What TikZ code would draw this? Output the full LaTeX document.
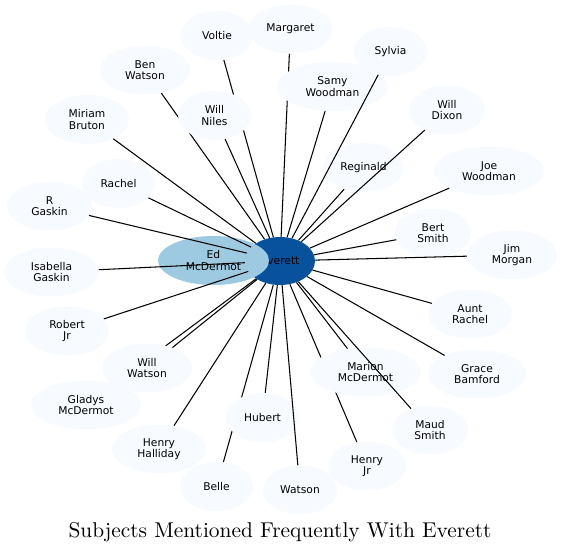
\documentclass[tikz,border=0pt]{standalone}
\usepackage{fontspec}
\newfontfamily\nodefontfam{DejaVu Sans}
\newfontfamily\titlefontfam{lmroman10-regular.otf}
\usetikzlibrary{shapes.geometric}
\definecolor{lightnode}{RGB}{247,251,255}
\definecolor{midnode}{RGB}{158,202,225}
\definecolor{darknode}{RGB}{8,81,156}
\pgfdeclarelayer{bg}
\pgfsetlayers{bg,main}
\tikzset{
  pnode/.style={ellipse, fill=lightnode, draw=none, inner sep=0pt, align=center,
    minimum height=49pt, text=black,
    font=\nodefontfam\fontsize{10.7}{11.5}\selectfont},
  link/.style={draw=black, line width=1.05pt},
}
\begin{document}
\begin{tikzpicture}[x=1pt,y=-1pt]
\useasboundingbox (0,0) rectangle (562,550);
% nodes
\node[pnode, minimum width=72pt] (voltie) at (217,35.5) {Voltie};
\node[pnode, minimum width=84pt] (margaret) at (290.5,29) {Margaret};
\node[pnode, minimum width=73pt] (sylvia) at (390.5,51.5) {Sylvia};
\node[pnode, minimum width=90pt] (benwatson) at (145,70) {Ben\\Watson};
\node[pnode, minimum width=111pt] (samy) at (332.5,86.5) {Samy\\Woodman};
\node[pnode, minimum width=76pt] (willdixon) at (447,110) {Will\\Dixon};
\node[pnode, minimum width=84pt] (miriam) at (87,119.5) {Miriam\\Bruton};
\node[pnode, minimum width=73pt] (willniles) at (214.5,115.5) {Will\\Niles};
\node[pnode, minimum width=81pt] (reginald) at (363.5,167.5) {Reginald};
\node[pnode, minimum width=110pt] (joe) at (489,171) {Joe\\Woodman};
\node[pnode, minimum width=73pt] (rachel) at (118.5,183.5) {Rachel};
\node[pnode, minimum width=85pt] (rgaskin) at (49.5,206) {R\\Gaskin};
\node[pnode, minimum width=76pt] (bert) at (433,233) {Bert\\Smith};
\node[pnode, minimum width=90pt] (jim) at (512,255) {Jim\\Morgan};
\node[pnode, minimum width=95pt] (isabella) at (51.5,272) {Isabella\\Gaskin};
\node[pnode, minimum width=84pt] (robertjr) at (67,331) {Robert\\Jr};
\node[pnode, minimum width=84pt] (auntrachel) at (470,314) {Aunt\\Rachel};
\node[pnode, minimum width=90pt] (willwatson) at (147,368) {Will\\Watson};
\node[pnode, minimum width=111pt] (marion) at (365.5,372) {Marion\\McDermot};
\node[pnode, minimum width=98pt] (grace) at (477,374) {Grace\\Bamford};
\node[pnode, minimum width=110pt] (gladys) at (86,405) {Gladys\\McDermot};
\node[pnode, minimum width=73pt] (hubert) at (262.5,417.5) {Hubert};
\node[pnode, minimum width=76pt] (maud) at (430,430) {Maud\\Smith};
\node[pnode, minimum width=94pt] (henryhall) at (159,449) {Henry\\Halliday};
\node[pnode, minimum width=78pt] (henryjr) at (367,466) {Henry\\Jr};
\node[pnode, minimum width=73pt] (belle) at (216.5,486.5) {Belle};
\node[pnode, minimum width=74pt] (watson) at (300,490) {Watson};
\node[pnode, fill=darknode, minimum width=70pt, minimum height=48pt] (everett) at (280,261) {Everett};
\node[pnode, fill=midnode, minimum width=111pt, minimum height=49pt] (ed) at (213.5,260.5) {Ed\\McDermot};
% edges hidden behind other nodes
\begin{pgfonlayer}{bg}
\foreach \n in {voltie,benwatson,margaret,gladys,henryjr,belle}
  \draw[link] (\n) -- (everett);
\end{pgfonlayer}
% edges drawn over nodes
\foreach \n in {sylvia,samy,willdixon,miriam,willniles,reginald,joe,rachel,rgaskin,bert,jim,isabella,robertjr,auntrachel,willwatson,marion,grace,hubert,maud,henryhall,watson}
  \draw[link] (\n) -- (everett);
% title
\node[anchor=base, inner sep=0pt, font=\titlefontfam\fontsize{21.4}{24}\selectfont] (title) at (280,537) {Subjects Mentioned Frequently With Everett};
\end{tikzpicture}
\end{document}
